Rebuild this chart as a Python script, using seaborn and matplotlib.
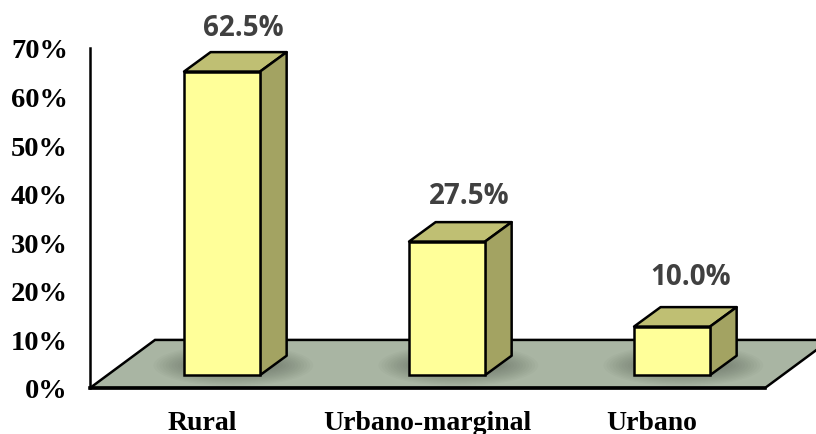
import matplotlib
matplotlib.use("Agg")
import matplotlib.pyplot as plt
import matplotlib.transforms as mtrans
from matplotlib.patches import Polygon, Ellipse
import seaborn as sns

categories = ["Rural", "Urbano-marginal", "Urbano"]
values = [62.5, 27.5, 10.0]
value_labels = ["62.5%", "27.5%", "10.0%"]
y_ticks = [0, 10, 20, 30, 40, 50, 60, 70]

# geometrie du faux 3D, en unites de donnees
base = 2.65
dx = 0.118
dy = 4.0
floor_dx = 0.289
floor_dy = 9.9
bar_width = 0.338

front_col = "#FFFF99"
top_col = "#BFBF73"
side_col = "#A3A362"
floor_col = "#A9B5A3"

sns.set_theme(style="white")
plt.rcParams["font.family"] = ["Liberation Serif", "DejaVu Sans"]

fig = plt.figure(figsize=(8.16, 4.34), dpi=100)
ax = fig.add_axes([90 / 816, (434 - 388) / 434, 675 / 816, 340 / 434])

sns.barplot(x=categories, y=values, color=front_col, saturation=1, width=bar_width,
            bottom=base, edgecolor="black", linewidth=1.8, zorder=5, ax=ax)

ax.set_xlim(-0.587, 2.413)
ax.set_ylim(0, 70)
x0, x1 = ax.get_xlim()

# sol du graphique
floor = Polygon([(x0, 0), (x1, 0), (x1 + floor_dx, floor_dy), (x0 + floor_dx, floor_dy)],
                closed=True, facecolor=floor_col, edgecolor="black", linewidth=1.8,
                clip_on=False, zorder=1)
ax.add_patch(floor)

# ombre, top et cote de chaque barre
for bar in ax.patches:
    if isinstance(bar, Polygon):
        continue
    l = bar.get_x()
    r = l + bar.get_width()
    b = bar.get_y()
    t = b + bar.get_height()
    for k in range(14):
        sh = Ellipse(((l + r) / 2 + 0.05, b + 2.0), bar_width * (2.1 - k * 0.08), 8.5 - k * 0.5,
                     facecolor="#3c463c", edgecolor="none", alpha=0.035, zorder=2, clip_on=False)
        ax.add_patch(sh)
        sh.set_clip_path(floor)
    ax.add_patch(Polygon([(l, t), (r, t), (r + dx, t + dy), (l + dx, t + dy)], closed=True,
                         facecolor=top_col, edgecolor="black", linewidth=1.8, zorder=4,
                         joinstyle="round", clip_on=False))
    ax.add_patch(Polygon([(r, b), (r + dx, b + dy), (r + dx, t + dy), (r, t)], closed=True,
                         facecolor=side_col, edgecolor="black", linewidth=1.8, zorder=4,
                         joinstyle="round", clip_on=False))

# etiquettes de valeurs
label_off = [(21, 43), (22, 45), (19, 49)]
tops = [v + base for v in values]
for i, txt in enumerate(value_labels):
    ax.annotate(txt, (i, tops[i]), xytext=label_off[i], textcoords="offset pixels",
                ha="center", va="center", fontsize=20, fontweight="bold",
                family=["Open Sans", "DejaVu Sans"], color="#404040", annotation_clip=False)

ax.set_yticks(y_ticks)
ax.set_yticklabels([f"{v}%" for v in y_ticks], fontsize=20.5, fontweight="bold", color="black")
ax.set_xticks(range(len(categories)))
ax.set_xticklabels(categories, fontsize=20, fontweight="bold", color="black")
ax.tick_params(axis="both", length=0)
ax.tick_params(axis="y", pad=16)
ax.tick_params(axis="x", pad=16.5)
shift_x = mtrans.ScaledTranslation(-20 / 100, 0, fig.dpi_scale_trans)
for lab in ax.get_xticklabels():
    lab.set_transform(lab.get_transform() + shift_x)
shift_y = mtrans.ScaledTranslation(0, -1 / 100, fig.dpi_scale_trans)
for lab in ax.get_yticklabels():
    lab.set_transform(lab.get_transform() + shift_y)

sns.despine(ax=ax, top=True, right=True)
ax.spines["left"].set_linewidth(1.8)
ax.spines["left"].set_color("black")
ax.spines["bottom"].set_linewidth(2.6)
ax.spines["bottom"].set_color("black")
ax.spines["bottom"].set_zorder(6)
ax.patch.set_alpha(0)

fig.savefig("out.png", dpi=100)
